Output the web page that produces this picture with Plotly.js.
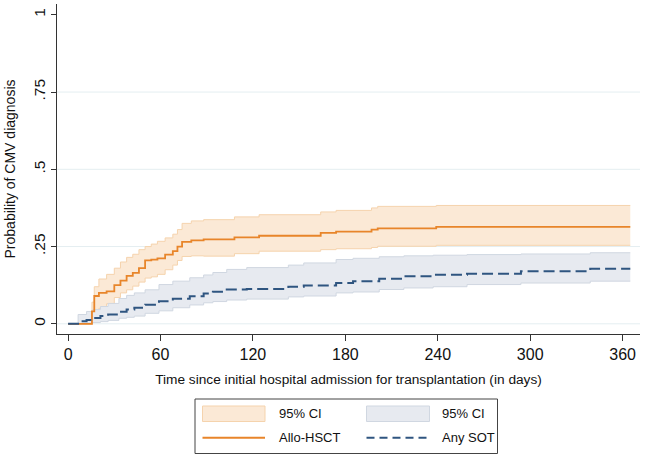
<!DOCTYPE html>
<html>
<head>
<meta charset="utf-8">
<script src="https://cdn.plot.ly/plotly-3.0.1.min.js"></script>
<style>
html,body{margin:0;padding:0;background:#fff;}
#chart{width:645px;height:458px;}
</style>
</head>
<body>
<div id="chart"></div>
<script>
// ---- data ----
var alloDays = [0, 14, 15.5, 17, 20, 25, 30, 34, 38, 42, 46, 50, 54, 58, 63, 68, 71, 74, 80, 88, 108, 124, 164, 174, 197, 201, 239, 365];
var alloEst  = [0, 0, 0.04, 0.09, 0.10, 0.105, 0.125, 0.14, 0.155, 0.165, 0.18, 0.205, 0.208, 0.212, 0.224, 0.235, 0.25, 0.265, 0.27, 0.273, 0.28, 0.285, 0.294, 0.298, 0.305, 0.309, 0.314, 0.314];
var alloLo   = [0, 0, 0.005, 0.025, 0.05, 0.065, 0.085, 0.10, 0.11, 0.122, 0.135, 0.148, 0.152, 0.16, 0.175, 0.19, 0.205, 0.218, 0.22, 0.219, 0.227, 0.235, 0.240, 0.243, 0.247, 0.251, 0.254, 0.254];
var alloHi   = [0, 0, 0.07, 0.12, 0.145, 0.16, 0.18, 0.20, 0.215, 0.225, 0.24, 0.25, 0.258, 0.267, 0.278, 0.29, 0.305, 0.325, 0.333, 0.337, 0.346, 0.353, 0.362, 0.367, 0.375, 0.380, 0.383, 0.383];

var sotDays = [0, 6.5, 12, 16, 21, 26, 33, 38, 43, 50, 59, 68, 79, 88, 94, 103, 116, 143, 153, 174, 185, 202, 218, 237, 259, 294, 339, 365];
var sotEst  = [0, 0.008, 0.012, 0.019, 0.025, 0.030, 0.039, 0.046, 0.052, 0.062, 0.073, 0.081, 0.089, 0.098, 0.104, 0.111, 0.113, 0.120, 0.124, 0.132, 0.138, 0.146, 0.154, 0.159, 0.162, 0.170, 0.178, 0.178];
var sotLo   = [0, 0, 0.002, 0.004, 0.007, 0.011, 0.018, 0.021, 0.025, 0.034, 0.042, 0.052, 0.061, 0.068, 0.072, 0.077, 0.080, 0.087, 0.090, 0.100, 0.103, 0.111, 0.116, 0.120, 0.127, 0.132, 0.138, 0.138];
var sotHi   = [0, 0.03, 0.04, 0.046, 0.056, 0.066, 0.082, 0.092, 0.100, 0.110, 0.127, 0.138, 0.149, 0.158, 0.166, 0.176, 0.182, 0.190, 0.197, 0.208, 0.212, 0.217, 0.220, 0.222, 0.224, 0.226, 0.230, 0.230];

var seriesNames = ["Allo-HSCT", "Any SOT"];
var ciName = "95% CI";
var xTickVals = [0, 60, 120, 180, 240, 300, 360];
var yTickVals = [0, 0.25, 0.5, 0.75, 1];
var yTickText = ["0", ".25", ".5", ".75", "1"];
var xTitle = "Time since initial hospital admission for transplantation (in days)";
var yTitle = "Probability of CMV diagnosis";

// ---- styles ----
var orange = "#e8852a", orangeFill = "#fbe9d6", orangeEdge = "#f5d3ad";
var navy = "#2f5580", blueFill = "#e7eaf0", blueEdge = "#d0d7e1";
var FONT = "Liberation Sans, Arial, sans-serif";
var TXT = "#111";

var W = 645, H = 458;
var M = {l: 57, r: 5, t: 4, b: 124};
var pw = W - M.l - M.r, ph = H - M.t - M.b;
function px(x) { return (x - M.l) / pw; }
function py(y) { return (H - M.b - y) / ph; }

function band(days, lo, hi, fill, edge) {
  return [
    {x: days, y: hi, mode: "lines", line: {shape: "hv", color: edge, width: 1}, showlegend: false, hoverinfo: "skip"},
    {x: days, y: lo, mode: "lines", fill: "tonexty", fillcolor: fill, line: {shape: "hv", color: edge, width: 1}, showlegend: false, hoverinfo: "skip"}
  ];
}

var traces = []
  .concat(band(alloDays, alloLo, alloHi, orangeFill, orangeEdge))
  .concat(band(sotDays, sotLo, sotHi, blueFill, blueEdge))
  .concat([
    {x: alloDays, y: alloEst, name: seriesNames[0], mode: "lines", line: {shape: "hv", color: orange, width: 1.8}, showlegend: false},
    {x: sotDays, y: sotEst, name: seriesNames[1], mode: "lines", line: {shape: "hv", color: navy, width: 2, dash: "11px,5px"}, showlegend: false}
  ]);

var shapes = [];
// grid lines
[0, 0.25, 0.5, 0.75].forEach(function (v) {
  shapes.push({type: "line", xref: "paper", yref: "y", x0: 0, x1: 1, y0: v, y1: v, layer: "below", line: {color: "#e4eef1", width: 1}});
});
// manual legend (box, swatches)
shapes.push({type: "rect", xref: "paper", yref: "paper", x0: px(195), x1: px(497.5), y0: py(399), y1: py(453.5), line: {color: "#444", width: 1}, fillcolor: "rgba(0,0,0,0)"});
shapes.push({type: "rect", xref: "paper", yref: "paper", x0: px(202.5), x1: px(265), y0: py(406), y1: py(421.5), line: {color: orangeEdge, width: 1}, fillcolor: orangeFill});
shapes.push({type: "rect", xref: "paper", yref: "paper", x0: px(366.5), x1: px(429.5), y0: py(406), y1: py(421.5), line: {color: blueEdge, width: 1}, fillcolor: blueFill});
shapes.push({type: "line", xref: "paper", yref: "paper", x0: px(202.5), x1: px(265), y0: py(437.7), y1: py(437.7), line: {color: orange, width: 2}});
shapes.push({type: "line", xref: "paper", yref: "paper", x0: px(366.5), x1: px(429.5), y0: py(437.7), y1: py(437.7), line: {color: navy, width: 2, dash: "8px,5px"}});

function lab(text, x, y) {
  return {text: text, xref: "paper", yref: "paper", x: px(x), y: py(y), xanchor: "left", yanchor: "middle", showarrow: false, font: {family: FONT, size: 13, color: TXT}};
}
var annotations = [
  lab(ciName, 277, 413.5), lab(ciName, 440, 413.5),
  lab(seriesNames[0], 277, 437.7), lab(seriesNames[1], 440, 437.7)
];

var layout = {
  width: W, height: H,
  margin: M,
  paper_bgcolor: "#fff", plot_bgcolor: "#fff",
  font: {family: FONT, size: 13, color: TXT},
  showlegend: false,
  xaxis: {
    range: [-7.2, 371.3], tickvals: xTickVals, ticktext: xTickVals.map(String),
    showgrid: false, zeroline: false, showline: true, linecolor: "#333", linewidth: 1,
    ticks: "outside", ticklen: 6, tickcolor: "#333",
    tickfont: {family: FONT, size: 16, color: TXT},
    title: {text: xTitle, font: {family: FONT, size: 13.7, color: TXT}, standoff: 12}
  },
  yaxis: {
    range: [-0.033, 1.035], tickvals: yTickVals, ticktext: yTickText, tickangle: -90,
    showgrid: false, zeroline: false, showline: true, linecolor: "#333", linewidth: 1,
    ticks: "outside", ticklen: 5, tickcolor: "#333",
    tickfont: {family: FONT, size: 15.5, color: TXT},
    title: {text: yTitle, font: {family: FONT, size: 14, color: TXT}, standoff: 11}
  },
  shapes: shapes,
  annotations: annotations
};

Plotly.newPlot("chart", traces, layout, {displayModeBar: false, staticPlot: true});
</script>
</body>
</html>
